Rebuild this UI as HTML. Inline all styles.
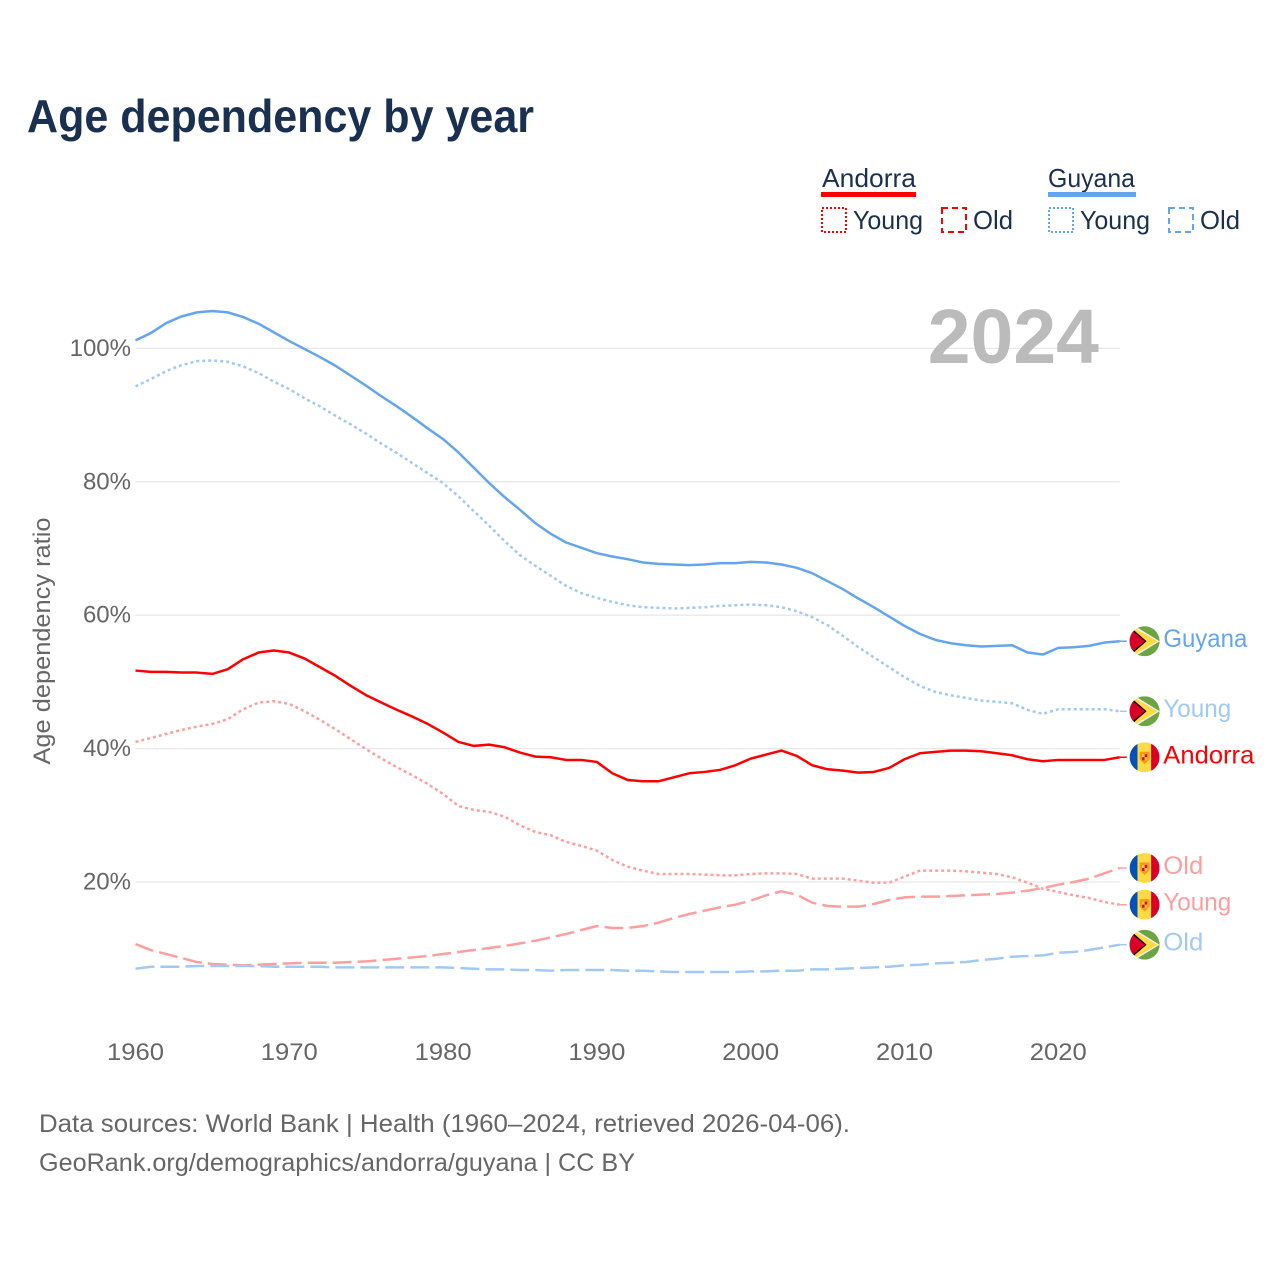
<!DOCTYPE html>
<html lang="en">
<head>
<meta charset="utf-8">
<title>Age dependency by year</title>
<style>
html,body{margin:0;padding:0;background:#fff;}
svg{display:block;font-family:"Liberation Sans",sans-serif;}
.tick{font-size:24px;fill:#666;}
.leg{font-size:26px;fill:#1a3050;}
.foot{font-size:25px;fill:#666;}
</style>
</head>
<body>
<svg id="chart" xmlns="http://www.w3.org/2000/svg" width="1280" height="1280" viewBox="0 0 1280 1280">
  <defs>
    <clipPath id="flag-clip"><circle cx="15" cy="15" r="15"/></clipPath>
    <symbol id="flag-guyana" viewBox="0 0 30 30" width="30" height="30">
      <g clip-path="url(#flag-clip)">
        <rect width="30" height="30" fill="#6da544"/>
        <polygon points="4,-1 30,15 4,31 0,31 0,-1" fill="#f0f0f0"/>
        <polygon points="3,0.5 28,15 3,29.5 0,29.5 0,0.5" fill="#ffda44"/>
        <polygon points="2,2 17,15 2,28 0,28 0,2" fill="#000"/>
        <polygon points="0,2.5 15.5,15 0,27.5" fill="#d80027"/>
      </g>
    </symbol>
    <symbol id="flag-andorra" viewBox="0 0 30 30" width="30" height="30">
      <g clip-path="url(#flag-clip)">
        <rect width="8" height="30" fill="#0052b4"/>
        <rect x="8" width="13.5" height="30" fill="#ffda44"/>
        <rect x="21.5" width="8.5" height="30" fill="#d80027"/>
        <path d="M10 9.5 H20 V17 L15 22 L10 17 Z" fill="#ff9811"/>
        <rect x="12.5" y="12" width="2.5" height="3" fill="#ffda44"/>
        <rect x="15" y="12" width="2.5" height="3" fill="#d80027"/>
        <rect x="12.5" y="15" width="2.5" height="3" fill="#d80027"/>
        <rect x="15" y="15" width="2.5" height="3" fill="#ffda44"/>
      </g>
    </symbol>
  </defs>
  <rect width="1280" height="1280" fill="#fff"/>

  <text x="27" y="132" font-size="46" font-weight="700" fill="#1a3050" textLength="507" lengthAdjust="spacingAndGlyphs">Age dependency by year</text>

  <g>
    <g>
      <text class="leg" x="822" y="187" textLength="94" lengthAdjust="spacingAndGlyphs">Andorra</text>
      <rect x="821" y="192" width="95" height="5" fill="#ff0000"/>
      <rect x="822" y="208" width="24" height="24" fill="none" stroke="#ff0000" stroke-width="2" stroke-dasharray="2 2"/>
      <text class="leg" x="853" y="229" textLength="70" lengthAdjust="spacingAndGlyphs">Young</text>
      <rect x="942" y="208" width="24" height="24" fill="none" stroke="#ff0000" stroke-width="2" stroke-dasharray="6 4"/>
      <text class="leg" x="973" y="229" textLength="40" lengthAdjust="spacingAndGlyphs">Old</text>
    </g>
    <g>
      <text class="leg" x="1048" y="187" textLength="87" lengthAdjust="spacingAndGlyphs">Guyana</text>
      <rect x="1048" y="192" width="88" height="5" fill="#63a5ee"/>
      <rect x="1049" y="208" width="24" height="24" fill="none" stroke="#63a5ee" stroke-width="2" stroke-dasharray="2 2"/>
      <text class="leg" x="1080" y="229" textLength="70" lengthAdjust="spacingAndGlyphs">Young</text>
      <rect x="1169" y="208" width="24" height="24" fill="none" stroke="#63a5ee" stroke-width="2" stroke-dasharray="6 4"/>
      <text class="leg" x="1200" y="229" textLength="40" lengthAdjust="spacingAndGlyphs">Old</text>
    </g>
  </g>

  <g id="grid"></g>
  <g id="yticks"></g>
  <g id="xticks"></g>

  <text transform="translate(50,641) rotate(-90)" text-anchor="middle" font-size="24" fill="#666" textLength="247" lengthAdjust="spacingAndGlyphs">Age dependency ratio</text>

  <text x="1099" y="363" text-anchor="end" font-size="77" font-weight="700" fill="#bbbbbb">2024</text>

  <g id="series"></g>
  <g id="endlabels"></g>

  <text class="foot" x="39" y="1132" textLength="811" lengthAdjust="spacingAndGlyphs">Data sources: World Bank | Health (1960–2024, retrieved 2026-04-06).</text>
  <text class="foot" x="39" y="1171" textLength="596" lengthAdjust="spacingAndGlyphs">GeoRank.org/demographics/andorra/guyana | CC BY</text>
</svg>
<script>
const years = [1960,1961,1962,1963,1964,1965,1966,1967,1968,1969,1970,1971,1972,1973,1974,1975,1976,1977,1978,1979,1980,1981,1982,1983,1984,1985,1986,1987,1988,1989,1990,1991,1992,1993,1994,1995,1996,1997,1998,1999,2000,2001,2002,2003,2004,2005,2006,2007,2008,2009,2010,2011,2012,2013,2014,2015,2016,2017,2018,2019,2020,2021,2022,2023,2024];
const xTickYears = [1960,1970,1980,1990,2000,2010,2020];
const yTickValues = [20,40,60,80,100];

const guyanaTotal = [101.2,102.3,103.8,104.8,105.4,105.6,105.4,104.7,103.7,102.4,101.1,99.9,98.7,97.4,95.9,94.4,92.8,91.3,89.7,88.0,86.4,84.4,82.1,79.8,77.7,75.8,73.8,72.2,70.9,70.1,69.3,68.8,68.4,67.9,67.7,67.6,67.5,67.6,67.8,67.8,68.0,67.9,67.6,67.1,66.3,65.1,63.9,62.5,61.2,59.8,58.4,57.2,56.3,55.8,55.5,55.3,55.4,55.5,54.4,54.1,55.1,55.2,55.4,55.9,56.1];
const guyanaYoung = [94.3,95.4,96.6,97.5,98.1,98.2,98.0,97.3,96.3,95.0,93.9,92.5,91.3,89.9,88.6,87.2,85.7,84.3,82.8,81.3,79.8,77.8,75.6,73.4,71.1,69.0,67.4,65.9,64.4,63.3,62.6,62.0,61.5,61.2,61.1,61.0,61.1,61.2,61.4,61.5,61.6,61.5,61.2,60.6,59.7,58.5,56.9,55.2,53.7,52.2,50.7,49.4,48.5,48.0,47.6,47.2,47.0,46.8,45.8,45.2,45.9,45.9,45.9,45.9,45.6];
const guyanaOld = [7.0,7.3,7.3,7.3,7.4,7.4,7.4,7.4,7.4,7.3,7.3,7.3,7.3,7.2,7.2,7.2,7.2,7.2,7.2,7.2,7.2,7.1,7.0,6.9,6.9,6.8,6.8,6.7,6.8,6.8,6.8,6.8,6.7,6.7,6.6,6.5,6.5,6.5,6.5,6.5,6.6,6.6,6.7,6.7,6.9,6.9,7.0,7.1,7.2,7.3,7.5,7.6,7.8,7.9,8.0,8.3,8.5,8.8,8.9,9.0,9.4,9.5,9.8,10.2,10.6];
const andorraTotal = [51.7,51.5,51.5,51.4,51.4,51.2,51.9,53.4,54.4,54.7,54.4,53.5,52.2,50.9,49.4,48.0,46.9,45.8,44.8,43.7,42.4,41.0,40.4,40.6,40.2,39.4,38.8,38.7,38.3,38.3,38.0,36.3,35.3,35.1,35.1,35.7,36.3,36.5,36.8,37.5,38.5,39.1,39.7,38.9,37.5,36.9,36.7,36.4,36.5,37.1,38.4,39.3,39.5,39.7,39.7,39.6,39.3,39.0,38.4,38.1,38.3,38.3,38.3,38.3,38.7];
const andorraYoung = [41.0,41.6,42.2,42.8,43.3,43.7,44.4,45.9,46.9,47.1,46.7,45.6,44.3,42.9,41.4,39.9,38.5,37.2,36.0,34.7,33.2,31.4,30.8,30.5,29.8,28.5,27.5,27.0,26.0,25.4,24.7,23.3,22.3,21.7,21.2,21.2,21.2,21.1,21.0,21.0,21.2,21.3,21.3,21.2,20.5,20.5,20.5,20.2,19.9,19.9,20.8,21.7,21.7,21.7,21.6,21.4,21.2,20.7,19.9,19.0,18.5,18.0,17.6,17.0,16.6];
const andorraOld = [10.7,9.8,9.2,8.6,8.0,7.7,7.6,7.5,7.6,7.7,7.8,7.9,7.9,7.9,8.0,8.1,8.3,8.5,8.7,8.9,9.2,9.5,9.8,10.1,10.4,10.8,11.2,11.7,12.2,12.8,13.4,13.1,13.1,13.4,13.9,14.6,15.2,15.7,16.2,16.6,17.2,18.0,18.6,18.1,16.9,16.4,16.3,16.3,16.7,17.3,17.7,17.8,17.8,17.9,18.0,18.1,18.2,18.4,18.7,19.1,19.6,20.0,20.5,21.3,22.1];

const NS = 'http://www.w3.org/2000/svg';
function xScale(year) { return 135.5 + (year - 1960) * 15.38; }
function yScale(value) { return 1015.4 - value * 6.67; }
function fmtPct(value) { return value + '%'; }

const gridLayer = document.getElementById('grid');
const yTickLayer = document.getElementById('yticks');
const xTickLayer = document.getElementById('xticks');
const seriesLayer = document.getElementById('series');
const labelLayer = document.getElementById('endlabels');

yTickValues.forEach(function (value) {
  const line = document.createElementNS(NS, 'line');
  
  
  line.setAttribute('x1', xScale(1960));
  line.setAttribute('x2', xScale(2024));
  line.setAttribute('y1', yScale(value));
  line.setAttribute('y2', yScale(value));
  line.setAttribute('stroke', '#e8e8e8');
  line.setAttribute('stroke-width', '1.3');
  gridLayer.appendChild(line);

  const label = document.createElementNS(NS, 'text');
  
  
  label.setAttribute('class', 'tick');
  label.setAttribute('x', 131);
  label.setAttribute('y', yScale(value) + 7.5);
  label.setAttribute('text-anchor', 'end');
  label.textContent = fmtPct(value);
  yTickLayer.appendChild(label);
});

xTickYears.forEach(function (year) {
  const label = document.createElementNS(NS, 'text');
  
  
  label.setAttribute('class', 'tick');
  label.setAttribute('x', xScale(year));
  label.setAttribute('y', 1060);
  label.setAttribute('text-anchor', 'middle');
  label.setAttribute('textLength', '57');
  label.setAttribute('lengthAdjust', 'spacingAndGlyphs');
  label.textContent = year;
  xTickLayer.appendChild(label);
});

function drawSeries(name, values, color, dash, flagId, text, width) {
  const pts = values.map(function (v, i) {
    return xScale(years[i]).toFixed(2) + ',' + yScale(v).toFixed(2);
  });
  const path = document.createElementNS(NS, 'polyline');
  
  
  path.setAttribute('points', pts.join(' '));
  path.setAttribute('fill', 'none');
  path.setAttribute('stroke', color);
  path.setAttribute('stroke-width', '2.5');
  path.setAttribute('stroke-linejoin', 'round');
  if (dash) path.setAttribute('stroke-dasharray', dash);
  seriesLayer.appendChild(path);

  const endY = yScale(values[values.length - 1]);
  const conn = document.createElementNS(NS, 'line');
  
  
  conn.setAttribute('x1', xScale(2024));
  conn.setAttribute('x2', xScale(2024) + 7);
  conn.setAttribute('y1', endY);
  conn.setAttribute('y2', endY);
  conn.setAttribute('stroke', color);
  conn.setAttribute('stroke-width', '1.5');
  labelLayer.appendChild(conn);

  const flag = document.createElementNS(NS, 'use');
  
  
  flag.setAttribute('href', '#' + flagId);
  flag.setAttribute('x', xScale(2024) + 9.8);
  flag.setAttribute('y', endY - 15);
  flag.setAttribute('width', 30);
  flag.setAttribute('height', 30);
  labelLayer.appendChild(flag);

  const label = document.createElementNS(NS, 'text');
  
  
  label.setAttribute('x', xScale(2024) + 43.5);
  label.setAttribute('y', endY + 6);
  label.setAttribute('font-size', '25');
  label.setAttribute('fill', color);
  label.setAttribute('textLength', width);
  label.setAttribute('lengthAdjust', 'spacingAndGlyphs');
  label.textContent = text;
  labelLayer.appendChild(label);
}

drawSeries('andorra-old', andorraOld, '#ff9e9e', '19 6', 'flag-andorra', 'Old', 40);
drawSeries('guyana-old', guyanaOld, '#a1c9f5', '19 6', 'flag-guyana', 'Old', 40);
drawSeries('andorra-young', andorraYoung, '#ff9e9e', '3 3', 'flag-andorra', 'Young', 68);
drawSeries('guyana-young', guyanaYoung, '#a1c9f5', '3 3', 'flag-guyana', 'Young', 68);
drawSeries('andorra-total', andorraTotal, '#ff0000', '', 'flag-andorra', 'Andorra', 91);
drawSeries('guyana-total', guyanaTotal, '#63a5ee', '', 'flag-guyana', 'Guyana', 84);
</script>
</body>
</html>
